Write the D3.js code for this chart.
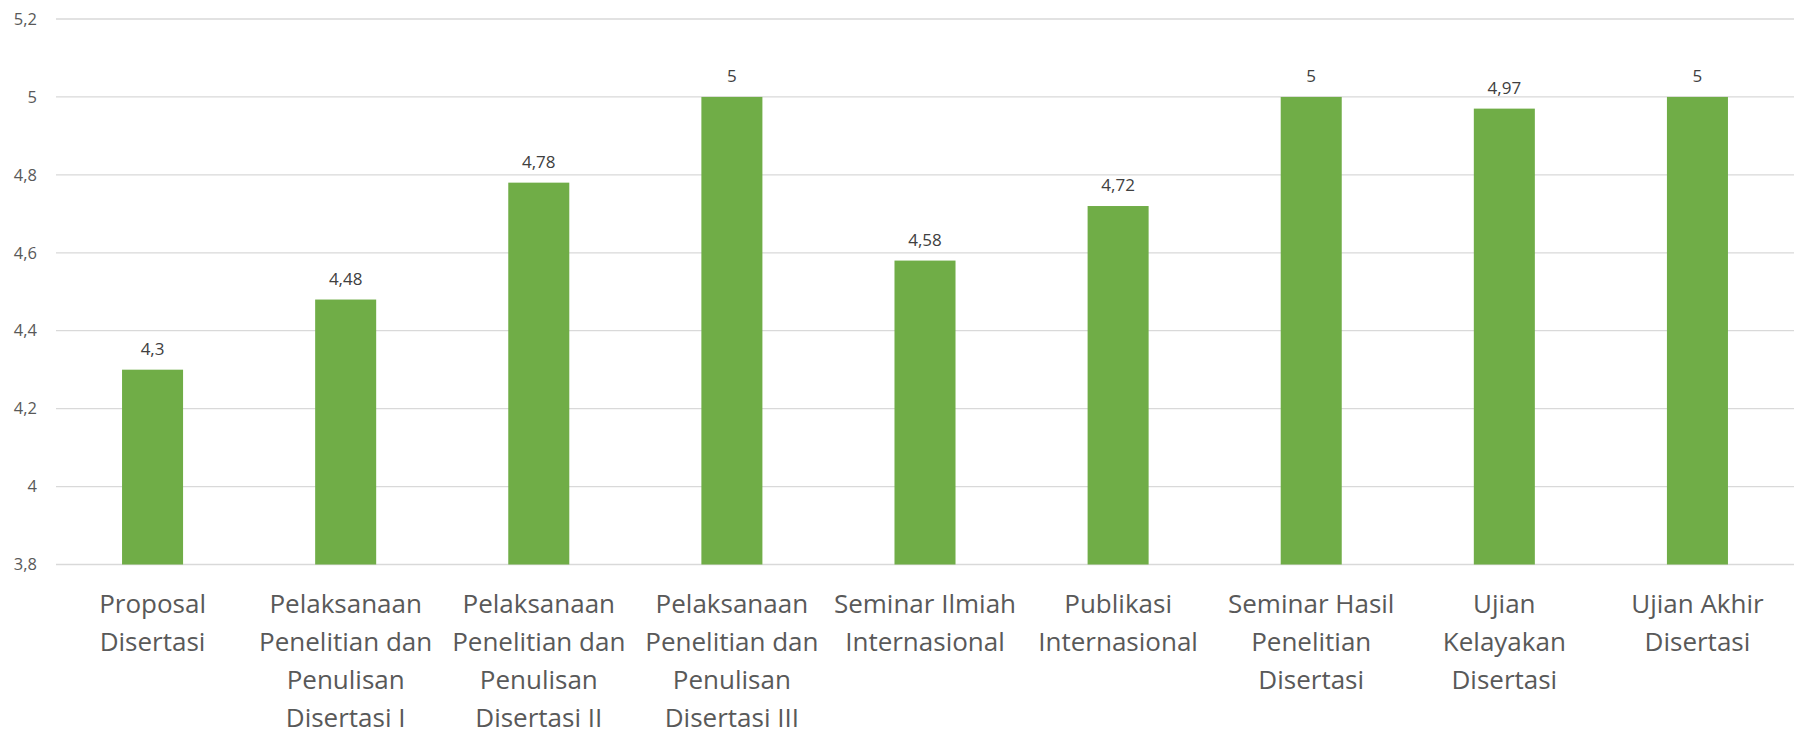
<!DOCTYPE html>
<html>
<head>
<meta charset="utf-8">
<script src="https://cdn.jsdelivr.net/npm/d3@7"></script>
<style>
  body { margin: 0; background: #fff; }
  svg { display: block; }
</style>
</head>
<body>
<svg width="1794" height="729"></svg>
<script>
// Kategori (tiap baris label dipisah)
const categories = [
  ["Proposal", "Disertasi"],
  ["Pelaksanaan", "Penelitian dan", "Penulisan", "Disertasi I"],
  ["Pelaksanaan", "Penelitian dan", "Penulisan", "Disertasi II"],
  ["Pelaksanaan", "Penelitian dan", "Penulisan", "Disertasi III"],
  ["Seminar Ilmiah", "Internasional"],
  ["Publikasi", "Internasional"],
  ["Seminar Hasil", "Penelitian", "Disertasi"],
  ["Ujian", "Kelayakan", "Disertasi"],
  ["Ujian Akhir", "Disertasi"]
];
const values = [4.3, 4.48, 4.78, 5, 4.58, 4.72, 5, 4.97, 5];
const yTicks = [3.8, 4, 4.2, 4.4, 4.6, 4.8, 5, 5.2];

const svg = d3.select("svg");
const plotLeft = 56, plotRight = 1794, plotTop = 19, plotBottom = 564.5;
const font = "'Open Sans', sans-serif";
const fmt = v => String(v).replace(".", ",");

const x = d3.scaleBand()
  .domain(d3.range(categories.length))
  .range([plotLeft, plotRight])
  .padding(0);

const y = d3.scaleLinear()
  .domain([3.8, 5.2])
  .range([plotBottom, plotTop]);

const barW = x.bandwidth() * 0.316;

// garis grid
svg.append("g")
  .selectAll("line")
  .data(yTicks)
  .enter().append("line")
  .attr("x1", plotLeft)
  .attr("x2", plotRight)
  .attr("y1", d => y(d))
  .attr("y2", d => y(d))
  .attr("stroke", "#d9d9d9")
  .attr("stroke-width", 1.3);

// label sumbu y
svg.append("g")
  .selectAll("text")
  .data(yTicks)
  .enter().append("text")
  .attr("x", 37)
  .attr("y", d => y(d))
  .attr("dy", "0.35em")
  .attr("text-anchor", "end")
  .attr("font-family", font)
  .attr("font-size", 16.5)
  .attr("fill", "#595959")
  .text(d => fmt(d));

// batang
svg.append("g")
  .selectAll("rect")
  .data(values)
  .enter().append("rect")
  .attr("x", (d, i) => x(i) + x.bandwidth() / 2 - barW / 2)
  .attr("y", d => y(d))
  .attr("width", barW)
  .attr("height", d => y(3.8) - y(d))
  .attr("fill", "#70ad47");

// label data
svg.append("g")
  .selectAll("text")
  .data(values)
  .enter().append("text")
  .attr("x", (d, i) => x(i) + x.bandwidth() / 2)
  .attr("y", d => y(d) - 15)
  .attr("text-anchor", "middle")
  .attr("font-family", font)
  .attr("font-size", 17)
  .attr("fill", "#404040")
  .text(d => fmt(d));

// label kategori
const cat = svg.append("g")
  .selectAll("text")
  .data(categories)
  .enter().append("text")
  .attr("text-anchor", "middle")
  .attr("font-family", font)
  .attr("font-size", 26)
  .attr("fill", "#595959");

cat.selectAll("tspan")
  .data((d, i) => d.map(line => ({ line, i })))
  .enter().append("tspan")
  .attr("x", d => x(d.i) + x.bandwidth() / 2)
  .attr("y", (d, j) => 613 + j * 38)
  .text(d => d.line);
</script>
</body>
</html>
